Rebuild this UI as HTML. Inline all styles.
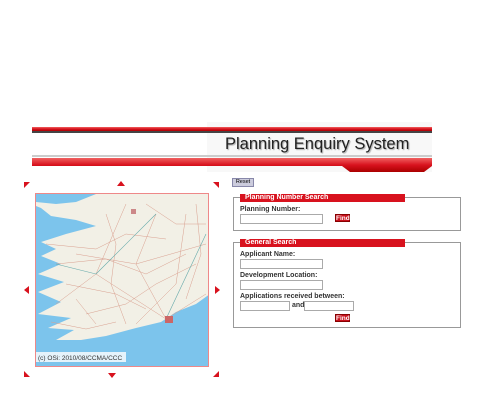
<!DOCTYPE html>
<html><head><meta charset="utf-8"><style>
body{margin:0;width:490px;height:400px;background:#fff;position:relative;overflow:hidden;font-family:"Liberation Sans",sans-serif}
.a{position:absolute}
.lbl{position:absolute;font-size:7px;font-weight:bold;color:#333}
.inp{position:absolute;border:1px solid #aaa;background:#fff;box-sizing:border-box}
.find{position:absolute;background:#c8101c;color:#fff;font-size:6.5px;font-weight:bold;border:1px solid #800;box-sizing:border-box;text-align:center;line-height:7px}
.fs{position:absolute;border:1px solid #999;box-sizing:border-box}
.lg{position:absolute;background:#d8121e;color:#fff;font-size:7px;font-weight:bold;padding-left:5px;box-sizing:border-box;line-height:7px}
.tri{position:absolute;width:0;height:0}
</style></head><body>
<div class="a" style="left:32px;top:122px;width:402px;height:52px">
<svg width="402" height="52">
<defs><linearGradient id="rg" x1="0" y1="0" x2="0" y2="1"><stop offset="0" stop-color="#f06060"/><stop offset="0.5" stop-color="#d8121e"/><stop offset="1" stop-color="#a00"/></linearGradient></defs>
<rect x="175" y="0" width="225" height="50" fill="#f8f8f8"/>
<rect x="0" y="5" width="400" height="4" fill="url(#rg)"/>
<rect x="0" y="9" width="400" height="2" fill="#444"/>
<rect x="0" y="33" width="400" height="2" fill="#ccc"/>
<polygon points="0,36 400,36 400,44 392,50 318,50 310,44 0,44" fill="url(#rg)"/>
</svg></div>
<div class="a" style="left:225px;top:135px;font-size:16.5px;color:#222;text-shadow:1px 1px 1px #aaa">Planning Enquiry System</div>

<div class="a" style="left:232px;top:178px;width:22px;height:9px;background:#ccd;border:1px solid #88a;box-sizing:border-box;font-size:5.5px;text-align:center;line-height:7px">Reset</div>

<div class="fs" style="left:233px;top:197px;width:228px;height:34px"></div>
<div class="lg" style="left:240px;top:194px;width:165px;height:8px">Planning Number Search</div>
<div class="lbl" style="left:240px;top:206px">Planning Number:</div>
<div class="inp" style="left:240px;top:214px;width:83px;height:10px"></div>
<div class="find" style="left:335px;top:214px;width:15px;height:8px">Find</div>

<div class="fs" style="left:233px;top:242px;width:228px;height:86px"></div>
<div class="lg" style="left:240px;top:239px;width:165px;height:8px">General Search</div>
<div class="lbl" style="left:240px;top:251px">Applicant Name:</div>
<div class="inp" style="left:240px;top:259px;width:83px;height:10px"></div>
<div class="lbl" style="left:240px;top:272px">Development Location:</div>
<div class="inp" style="left:240px;top:280px;width:83px;height:10px"></div>
<div class="lbl" style="left:240px;top:293px">Applications received between:</div>
<div class="inp" style="left:240px;top:301px;width:50px;height:10px"></div>
<div class="lbl" style="left:292px;top:302px">and</div>
<div class="inp" style="left:304px;top:301px;width:50px;height:10px"></div>
<div class="find" style="left:335px;top:314px;width:15px;height:8px">Find</div>

<div class="a" style="left:35px;top:193px;width:174px;height:174px;border:1px solid #e88;box-sizing:border-box;overflow:hidden">
<svg width="174" height="174">
<rect width="174" height="174" fill="#7cc4ec"/>
<polygon points="0,0 174,0 174,100 160,110 140,118 125,128 100,134 70,142 45,146 20,146 38,136 12,134 35,124 2,120 25,108 2,98 28,88 2,80 25,70 5,62 20,55 5,48 30,40 60,32 40,26 15,22 5,14 0,12" fill="#f2f0e6"/>
<polygon points="0,0 60,0 40,8 20,10 0,8" fill="#7cc4ec"/>
<g stroke="#d9a090" stroke-width="0.5" fill="none">
<path d="M120,20 L100,70 L130,125 M40,60 L100,70 L170,50 M60,80 L130,125 L170,100 M90,10 L60,80 L20,110 M150,20 L140,90 L100,130 M10,50 L60,55 L90,40 L130,45 M30,90 L80,100 L110,115 M50,120 L90,110 L120,90 L160,70 M20,70 L70,65 L110,80 L150,60 M70,20 L80,50 L75,90 L90,130 M160,10 L165,60 L150,105 M40,105 L60,130 M110,10 L140,30 L170,30 M15,128 L50,135 L80,128"/>
</g>
<g stroke="#6aa" stroke-width="0.6" fill="none"><path d="M120,20 L60,80 M130,125 L170,40 M60,80 L20,70"/></g>
<rect x="129" y="122" width="8" height="7" fill="#c66"/>
<rect x="95" y="15" width="5" height="5" fill="#c88"/>
<rect x="0" y="158" width="90" height="10" fill="#fff" opacity="0.8"/>
<text x="2" y="166" font-size="6.5" font-family="Liberation Sans" fill="#333">(c) OSi: 2010/08/CCMA/CCC</text>
</svg></div>
<div class="tri" style="left:24px;top:182px;border-top:6px solid #d8121e;border-right:6px solid transparent"></div>
<div class="tri" style="left:117px;top:181px;border-bottom:5px solid #d8121e;border-left:4px solid transparent;border-right:4px solid transparent"></div>
<div class="tri" style="left:213px;top:182px;border-top:6px solid #d8121e;border-left:6px solid transparent"></div>
<div class="tri" style="left:24px;top:286px;border-right:5px solid #d8121e;border-top:4px solid transparent;border-bottom:4px solid transparent"></div>
<div class="tri" style="left:215px;top:286px;border-left:5px solid #d8121e;border-top:4px solid transparent;border-bottom:4px solid transparent"></div>
<div class="tri" style="left:24px;top:371px;border-bottom:6px solid #d8121e;border-right:6px solid transparent"></div>
<div class="tri" style="left:108px;top:373px;border-top:5px solid #d8121e;border-left:4px solid transparent;border-right:4px solid transparent"></div>
<div class="tri" style="left:213px;top:371px;border-bottom:6px solid #d8121e;border-left:6px solid transparent"></div>
</body></html>
